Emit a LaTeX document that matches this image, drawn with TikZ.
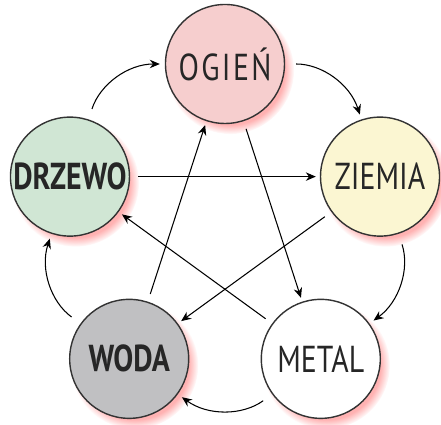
\documentclass[tikz,border=0pt]{standalone}
\usepackage{fontspec}
\setmainfont{PT Sans}
\usepackage{tikz}
\usetikzlibrary{arrows.meta,shadows}
\definecolor{ogien}{RGB}{246,206,206}
\definecolor{drzewo}{RGB}{208,230,212}
\definecolor{ziemia}{RGB}{251,246,210}
\definecolor{woda}{RGB}{192,192,194}
\newcommand{\eltext}[1]{\scalebox{0.97}[1.22]{#1}}
\begin{document}
\begin{tikzpicture}[>={Stealth[length=2mm,width=1.7mm]},
  el/.style={circle,draw=black!80,line width=0.8pt,minimum size=2.38cm,inner sep=0pt,
    font=\fontsize{17.5}{17.5}\selectfont,text=black!85,
    circular drop shadow={fill=red!60,opacity=.5,shadow xshift=.1cm,shadow yshift=-.12cm,shadow scale=1.07}},
  cyc/.style={->,line width=0.6pt,shorten <=2.2mm,shorten >=1mm},
  star/.style={->,line width=0.6pt,shorten <=1.6mm,shorten >=0.8mm}]
\useasboundingbox (-4.5,-3.96) rectangle (4.32,4.54);
% the five elements
\node[el,fill=ogien] (ogien) at (90:3.26) {\eltext{\addfontfeatures{LetterSpace=8}OGIEŃ}};
\node[el,fill=ziemia] (ziemia) at (18:3.26) {\eltext{ZIEMIA}};
\node[el,fill=white] (metal) at (-54:3.26) {\eltext{METAL}};
\node[el,fill=woda] (woda) at (234:3.26) {\eltext{\bfseries WODA}};
\node[el,fill=drzewo] (drzewo) at (162:3.26) {\eltext{\bfseries DRZEWO}};
% outer cycle
\draw[cyc] (drzewo) to[bend left=36] (ogien);
\draw[cyc] (ogien) to[bend left=36] (ziemia);
\draw[cyc] (ziemia) to[bend left=36] (metal);
\draw[cyc] (metal) to[bend left=36] (woda);
\draw[cyc] (woda) to[bend left=36] (drzewo);
% inner star
\draw[star] (drzewo) -- (ziemia);
\draw[star] (ziemia) -- (woda);
\draw[star] (woda) -- (ogien);
\draw[star] (ogien) -- (metal);
\draw[star] (metal) -- (drzewo);
\end{tikzpicture}
\end{document}
